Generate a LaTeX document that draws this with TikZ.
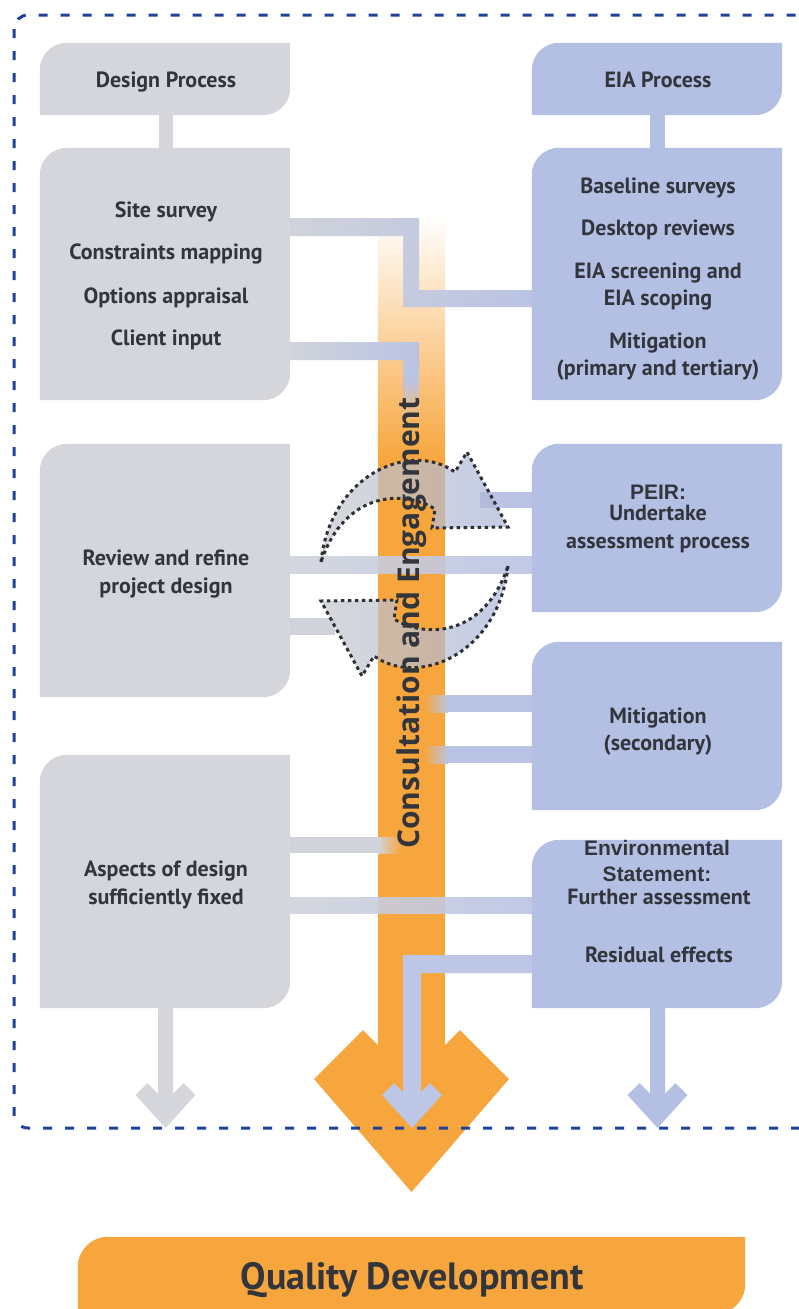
\documentclass[tikz,border=0pt]{standalone}
\usepackage{fontspec}
\setmainfont{PT Sans}
\newfontfamily\arialf{Liberation Sans}
\newfontfamily\consf{Open Sans}
\usetikzlibrary{calc}
\definecolor{grayC}{RGB}{212,214,219}
\definecolor{blueC}{RGB}{180,191,228}
\definecolor{conngray}{RGB}{208,211,218}
\definecolor{connblue}{RGB}{186,195,228}
\definecolor{orangeC}{RGB}{247,166,62}
\definecolor{textC}{RGB}{50,54,60}
\definecolor{dashC}{RGB}{28,66,155}
\definecolor{dotC}{RGB}{45,48,52}
\newcommand\leaf[3][27]{\fill[#3] (#2.south west) -- ($(#2.north west)+(0,#1)$) .. controls ($(#2.north west)+(0,0.45*#1)$) and ($(#2.north west)+(0.45*#1,0)$) .. ($(#2.north west)+(#1,0)$) -- (#2.north east) -- ($(#2.south east)+(0,-#1)$) .. controls ($(#2.south east)+(0,-0.45*#1)$) and ($(#2.south east)+(-0.45*#1,0)$) .. ($(#2.south east)+(-#1,0)$) -- cycle;}
\newcommand\myarrow[5]{\fill[#5] (#1-#4,#2) -- (#1-#4,#3-27-#4) -- (#1-18,#3-45) -- (#1-30,#3-33) -- (#1,#3) -- (#1+30,#3-33) -- (#1+18,#3-45) -- (#1+#4,#3-27-#4) -- (#1+#4,#2) -- cycle;}
\tikzset{
  boxn/.style={inner sep=0, minimum width=250pt, draw=none},
  lab/.style={anchor=base, text=textC, font=\bfseries\fontsize{22}{24}\selectfont, inner sep=0},
  alab/.style={anchor=base, text=textC, font=\arialf\bfseries\fontsize{21}{23}\selectfont, inner sep=0},
  cyc/.style={fill opacity=0.7, draw=dotC, line width=3pt, dash pattern=on 3.5pt off 3.5pt, left color=grayC!93!black, right color=blueC!95!black},
  frame/.style={draw=dashC, line width=3pt, dash pattern=on 9pt off 13pt, rounded corners=14pt}
}
\begin{document}
\begin{tikzpicture}[x=1pt,y=-1pt]
\useasboundingbox (0,0) rectangle (798,1309);
% box nodes
\node[boxn, minimum height=72pt] (dp) at (165,79) {};
\node[boxn, minimum height=72pt] (ep) at (657,79) {};
\node[boxn, minimum height=252pt] (d2) at (165,274) {};
\node[boxn, minimum height=252pt] (e2) at (657,274) {};
\node[boxn, minimum height=253pt] (rv) at (165,570.5) {};
\node[boxn, minimum height=168pt] (pe) at (657,528) {};
\node[boxn, minimum height=168pt] (mi) at (657,726) {};
\node[boxn, minimum height=253pt] (as) at (165,881.5) {};
\node[boxn, minimum height=168pt] (es) at (657,924) {};
\node[inner sep=0, minimum width=67pt, minimum height=830pt] (bar) at (411.5,630) {};
\node[inner sep=0, minimum width=667pt, minimum height=77pt] (qd) at (411.5,1275.5) {};
% orange bar
\shade[top color=white, bottom color=orangeC] (bar.north west) rectangle (445,460);
\fill[orangeC] (378,459) -- (378,1045) -- (363,1030) -- (314,1079) -- (411.5,1192) -- (509,1079) -- (460,1030) -- (445,1045) -- (445,459) -- cycle;
% boxes
\leaf{dp}{grayC}
\leaf{ep}{blueC}
\leaf{d2}{grayC}
\leaf{e2}{blueC}
\leaf{rv}{grayC}
\leaf{pe}{blueC}
\leaf{mi}{blueC}
\leaf{as}{grayC}
\leaf{es}{blueC}
\fill[grayC] ($(dp.south)+(-6,-1)$) rectangle ($(d2.north)+(8,1)$);
\fill[blueC] ($(ep.south)+(-7,-1)$) rectangle ($(e2.north)+(8,1)$);
% connectors
\shade[left color=conngray, right color=connblue] (d2.east |- 0,218) -- (419,218) -- (419,290) -- (e2.west |- 0,290) -- (e2.west |- 0,307) -- (403,307) -- (403,236) -- (d2.east |- 0,236) -- cycle;
\shade[left color=conngray, right color=connblue] (d2.east |- 0,342) -- (419,342) -- (419,381) -- (403,381) -- (403,360) -- (d2.east |- 0,360) -- cycle;
\shade[top color=connblue, bottom color=orangeC!75!white] (403,380) rectangle (419,418);
\shade[left color=conngray, right color=connblue, fill opacity=0.9] (rv.east |- 0,556) rectangle (pe.west |- 0,573);
\fill[connblue] (480,492) rectangle (pe.west |- 0,508);
\fill[conngray] (rv.east |- 0,618) rectangle (335,635);
\shade[left color=orangeC, right color=connblue] (424,695) rectangle (448,712);
\fill[connblue] (447.5,695) rectangle (mi.west |- 0,712);
\shade[left color=orangeC, right color=connblue] (424,746) rectangle (448,763);
\fill[connblue] (447.5,746) rectangle (mi.west |- 0,763);
\fill[conngray] (as.east |- 0,837) rectangle (379,853);
\shade[left color=conngray, right color=orangeC] (378,837) rectangle (401,853);
\shade[left color=conngray, right color=connblue, fill opacity=0.9] (as.east |- 0,897) rectangle (es.west |- 0,913);
% residual effects arrow
\fill[connblue!95!white] (es.west |- 0,955) -- (403,955) -- (403,1092) -- (394,1083) -- (382,1095) -- (412,1128) -- (442,1095) -- (430,1083) -- (421,1092) -- (421,973) -- (es.west |- 0,973) -- cycle;
% down arrows
\myarrow{165.5}{1007}{1128}{7.5}{grayC}
\myarrow{657.5}{1007}{1128}{7.5}{blueC}
% cycle arrows
\path[cyc] (321,562) .. controls (330,475) and (410,440) .. (455,472) -- (467,452) -- (508,527) -- (432,528) -- (435,509) .. controls (405,490) and (345,490) .. (321,562) -- cycle;
\path[cyc] (508,566) .. controls (499,653) and (419,688) .. (374,656) -- (362,676) -- (321,601) -- (397,600) -- (394,619) .. controls (424,638) and (484,638) .. (508,566) -- cycle;
% texts
\node[lab] (t1) at (166,87) {Design Process};
\node[lab] (t2) at (658,87) {EIA Process};
\node[lab] (t3) at (166,217) {Site survey};
\node[lab] (t4) at (166,259) {Constraints mapping};
\node[lab] (t5) at (166,303) {Options appraisal};
\node[lab] (t6) at (166,345) {Client input};
\node[lab] (t7) at (658,193) {Baseline surveys};
\node[lab] (t8) at (658,235) {Desktop reviews};
\node[lab] (t9) at (658,278) {EIA screening and};
\node[lab] (t10) at (658,305) {EIA scoping};
\node[lab] (t11) at (658,348) {Mitigation};
\node[lab] (t12) at (658,375) {(primary and tertiary)};
\node[lab] (t13) at (166,565) {Review and refine};
\node[lab] (t14) at (166,593) {project design};
\node[alab] (t15) at (658,499) {PEIR:};
\node[lab] (t16) at (658,520) {Undertake};
\node[lab] (t17) at (658,548) {assessment process};
\node[lab] (t18) at (658,723) {Mitigation};
\node[lab] (t19) at (658,750) {(secondary)};
\node[lab] (t20) at (166,876) {Aspects of design};
\node[lab] (t21) at (166,904) {sufficiently fixed};
\node[alab] (t22) at (657,855) {Environmental};
\node[alab] (t23) at (657,881) {Statement:};
\node[lab] (t24) at (659,904) {Further assessment};
\node[lab] (t25) at (659,962) {Residual effects};
\node[rotate=90, anchor=base, inner sep=0, text=textC, font=\consf\bfseries\fontsize{30}{31}\selectfont] (ce) at (419,623) {Consultation and Engagement};
% quality development
\leaf[30]{qd}{orangeC}
\node[anchor=base, inner sep=0, text=textC, font=\bfseries\fontsize{38}{40}\selectfont] (t26) at (412,1289) {Quality Development};
% dashed frame
\draw[frame] (14,15) rectangle (815,1128);
\end{tikzpicture}
\end{document}
